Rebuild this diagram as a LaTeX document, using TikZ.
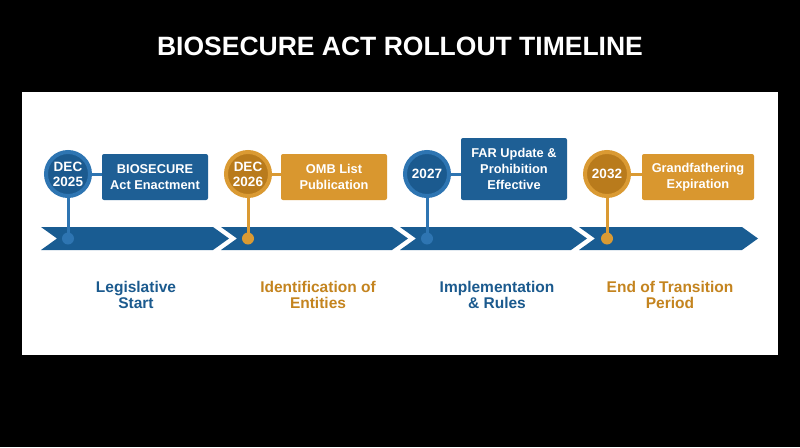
\documentclass[tikz,border=0pt]{standalone}
\usepackage{fontspec}
\setmainfont{Liberation Sans}
\definecolor{bgblack}{HTML}{000000}
\definecolor{bandblue}{HTML}{195C92}
\definecolor{boxblue}{HTML}{1E5F95}
\definecolor{ringblue}{HTML}{2E75B2}
\definecolor{innerblue}{HTML}{1B5A8F}
\definecolor{boxgold}{HTML}{D9972F}
\definecolor{ringgold}{HTML}{DA9A33}
\definecolor{innergold}{HTML}{B97B1C}
\definecolor{txtblue}{HTML}{1B5A8E}
\definecolor{txtgold}{HTML}{C4841F}
\tikzset{
  band/.style={fill=bandblue, draw=none},
  yearcirc/.style={circle, minimum size=44pt, inner sep=0pt, line width=4pt, text=white, font=\bfseries\fontsize{13.5}{15}\selectfont, align=center},
  evbox/.style={rectangle, rounded corners=2pt, inner sep=0pt, text=white, font=\bfseries\fontsize{12.8}{16}\selectfont, align=center},
  phase/.style={font=\bfseries\fontsize{15.5}{16.5}\selectfont, align=center},
  link/.style={line width=3pt},
}
\begin{document}
\begin{tikzpicture}[x=1pt,y=-1pt]
\fill[bgblack] (0,0) rectangle (800,447);
\useasboundingbox (0,0) rectangle (800,447);
\fill[white] (22,92) rectangle (778,355);
\node[text=white, font=\bfseries\fontsize{26.5}{30}\selectfont] (title) at (400,46) {BIOSECURE ACT ROLLOUT TIMELINE};
% chevron band segments
\foreach \L/\R in {41/229, 221/408, 400/587, 579/758}{
  \fill[band] (\L,227) -- (\R-16,227) -- (\R,238.5) -- (\R-16,250) -- (\L,250) -- (\L+16,238.5) -- cycle;
}
% dots on band
\coordinate (d1) at (68,238.5);
\coordinate (d2) at (248,238.5);
\coordinate (d3) at (427,238.5);
\coordinate (d4) at (607,238.5);
% circles
\node[yearcirc, fill=innerblue, draw=ringblue] (c1) at (68,174) {DEC\\2025};
\node[yearcirc, fill=innergold, draw=ringgold] (c2) at (248,174) {DEC\\2026};
\node[yearcirc, fill=innerblue, draw=ringblue] (c3) at (427,174) {2027};
\node[yearcirc, fill=innergold, draw=ringgold] (c4) at (607,174) {2032};
% boxes
\node[evbox, fill=boxblue, minimum width=106pt, minimum height=46pt] (b1) at (155,177) {BIOSECURE\\Act Enactment};
\node[evbox, fill=boxgold, minimum width=106pt, minimum height=46pt] (b2) at (334,177) {OMB List\\Publication};
\node[evbox, fill=boxblue, minimum width=106pt, minimum height=62pt] (b3) at (514,169) {FAR Update \&\\Prohibition\\Effective};
\node[evbox, fill=boxgold, minimum width=112pt, minimum height=46pt] (b4) at (698,177) {Grandfathering\\Expiration};
% links
\draw[link, ringblue] (c1.south) -- (d1);
\draw[link, ringgold] (c2.south) -- (d2);
\draw[link, ringblue] (c3.south) -- (d3);
\draw[link, ringgold] (c4.south) -- (d4);
\fill[ringblue] (d1) circle (6);
\fill[ringgold] (d2) circle (6);
\fill[ringblue] (d3) circle (6);
\fill[ringgold] (d4) circle (6);
\draw[link, ringblue] (c1.east) -- (b1.west |- c1.east);
\draw[link, ringgold] (c2.east) -- (b2.west |- c2.east);
\draw[link, ringblue] (c3.east) -- (b3.west |- c3.east);
\draw[link, ringgold] (c4.east) -- (b4.west |- c4.east);
% phase labels
\node[phase, text=txtblue] (p1) at (136,295) {Legislative\\Start};
\node[phase, text=txtgold] (p2) at (318,295) {Identification of\\Entities};
\node[phase, text=txtblue] (p3) at (497,295) {Implementation\\\& Rules};
\node[phase, text=txtgold] (p4) at (670,295) {End of Transition\\Period};
\end{tikzpicture}
\end{document}
